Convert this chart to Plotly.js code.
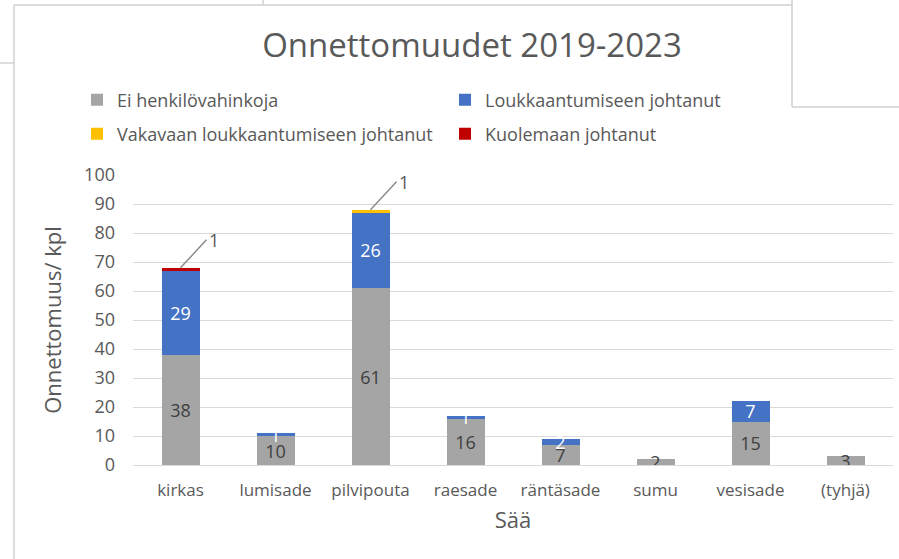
<!DOCTYPE html>
<html>
<head>
<meta charset="utf-8">
<script src="https://cdn.plot.ly/plotly-3.0.1.min.js"></script>
<style>html,body{margin:0;padding:0;background:#fff;}#chart{width:899px;height:559px;}</style>
</head>
<body>
<div id="chart"></div>
<script>
const categories = ["kirkas", "lumisade", "pilvipouta", "raesade", "räntäsade", "sumu", "vesisade", "(tyhjä)"];
const eiHenkilovahinkoja = [38, 10, 61, 16, 7, 2, 15, 3];
const loukkaantumiseen = [29, 1, 26, 1, 2, 0, 7, 0];
const vakavaan = [0, 0, 1, 0, 0, 0, 0, 0];
const kuolemaan = [1, 0, 0, 0, 0, 0, 0, 0];
const seriesNames = ["Ei henkilövahinkoja", "Loukkaantumiseen johtanut", "Vakavaan loukkaantumiseen johtanut", "Kuolemaan johtanut"];
const yTicks = [0, 10, 20, 30, 40, 50, 60, 70, 80, 90, 100];

const FONT = "Open Sans, DejaVu Sans, sans-serif";
const GREY_TXT = "#595959";

function labels(arr) { return arr.map(v => v > 0 ? String(v) : ""); }

const traces = [
  {type: "bar", name: seriesNames[0], x: categories, y: eiHenkilovahinkoja,
   marker: {color: "#a5a5a5"}, text: labels(eiHenkilovahinkoja), textposition: "inside",
   insidetextanchor: "middle", constraintext: "none", textangle: 0,
   textfont: {color: "#404040", size: 18, family: FONT}, legend: "legend", hoverinfo: "x+y+name"},
  {type: "bar", name: seriesNames[1], x: categories, y: loukkaantumiseen,
   marker: {color: "#4472c4"}, text: labels(loukkaantumiseen), textposition: "inside",
   insidetextanchor: "middle", constraintext: "none", textangle: 0,
   textfont: {color: "#ffffff", size: 18, family: FONT}, legend: "legend", hoverinfo: "x+y+name"},
  {type: "bar", name: seriesNames[2], x: categories, y: vakavaan,
   marker: {color: "#ffc000"}, textposition: "none", legend: "legend2", hoverinfo: "x+y+name"},
  {type: "bar", name: seriesNames[3], x: categories, y: kuolemaan,
   marker: {color: "#c00000"}, textposition: "none", legend: "legend2", hoverinfo: "x+y+name"}
];

// outside labels with leader lines for the thin top segments
const annotations = [];
categories.forEach((c, i) => {
  const top = eiHenkilovahinkoja[i] + loukkaantumiseen[i] + vakavaan[i] + kuolemaan[i];
  [vakavaan, kuolemaan].forEach(arr => {
    if (arr[i] > 0) {
      annotations.push({x: c, y: top, xref: "x", yref: "y", text: String(arr[i]),
        showarrow: true, arrowhead: 0, arrowwidth: 1.5, arrowcolor: "#8c8c8c",
        ax: 26, ay: -28, xanchor: "left", yanchor: "middle",
        font: {family: FONT, size: 18, color: GREY_TXT}});
    }
  });
});

const lineStyle = {color: "#d0d0d0", width: 1.5};
const px = v => (v - 133) / 760;
const py = v => (465 - v) / 290;
const shapes = [
  {type: "line", xref: "paper", yref: "paper", x0: px(14), x1: px(792), y0: py(5), y1: py(5), line: lineStyle},
  {type: "line", xref: "paper", yref: "paper", x0: px(263), x1: px(263), y0: py(5), y1: py(-2), line: lineStyle},
  {type: "line", xref: "paper", yref: "paper", x0: px(14), x1: px(14), y0: py(5), y1: py(562), line: lineStyle},
  {type: "line", xref: "paper", yref: "paper", x0: px(-2), x1: px(14), y0: py(63), y1: py(63), line: lineStyle},
  {type: "line", xref: "paper", yref: "paper", x0: px(792), x1: px(792), y0: py(-2), y1: py(107), line: lineStyle},
  {type: "line", xref: "paper", yref: "paper", x0: px(792), x1: px(902), y0: py(107), y1: py(107), line: lineStyle}
];

const legendCommon = {orientation: "h", xanchor: "left", yanchor: "middle",
  font: {family: FONT, size: 18, color: GREY_TXT}, itemwidth: 30,
  entrywidth: 323, entrywidthmode: "pixels", traceorder: "normal", bgcolor: "rgba(0,0,0,0)"};

const layout = {
  width: 899, height: 559,
  paper_bgcolor: "#ffffff", plot_bgcolor: "#ffffff",
  margin: {l: 133, r: 6, t: 175, b: 94},
  font: {family: FONT, color: GREY_TXT},
  title: {text: "Onnettomuudet 2019-2023", font: {family: FONT, size: 33, color: GREY_TXT},
          x: 472/899, xanchor: "center", xref: "container", y: 1 - 45/559, yanchor: "middle", yref: "container"},
  barmode: "stack", bargap: 0.6,
  showlegend: true,
  legend: Object.assign({}, legendCommon, {x: px(77), y: py(100)}),
  legend2: Object.assign({}, legendCommon, {x: px(77), y: py(134)}),
  xaxis: {type: "category", showgrid: false, zeroline: false, showline: false, ticks: "",
          tickfont: {family: FONT, size: 17, color: GREY_TXT}, ticklabelstandoff: 13,
          title: {text: "Sää", font: {family: FONT, size: 22, color: GREY_TXT}, standoff: 12},
          automargin: false},
  yaxis: {range: [0, 100], tickvals: yTicks, showgrid: true, gridcolor: "#d9d9d9", gridwidth: 1,
          zeroline: true, zerolinecolor: "#d9d9d9", zerolinewidth: 1, showline: false, ticks: "",
          tickfont: {family: FONT, size: 18, color: GREY_TXT}, ticklabelstandoff: 17,
          title: {text: "Onnettomuus/ kpl", font: {family: FONT, size: 22, color: GREY_TXT}, standoff: 16},
          automargin: false, fixedrange: true},
  annotations: annotations,
  shapes: shapes
};

Plotly.newPlot("chart", traces, layout, {displayModeBar: false, staticPlot: true});
</script>
</body>
</html>
